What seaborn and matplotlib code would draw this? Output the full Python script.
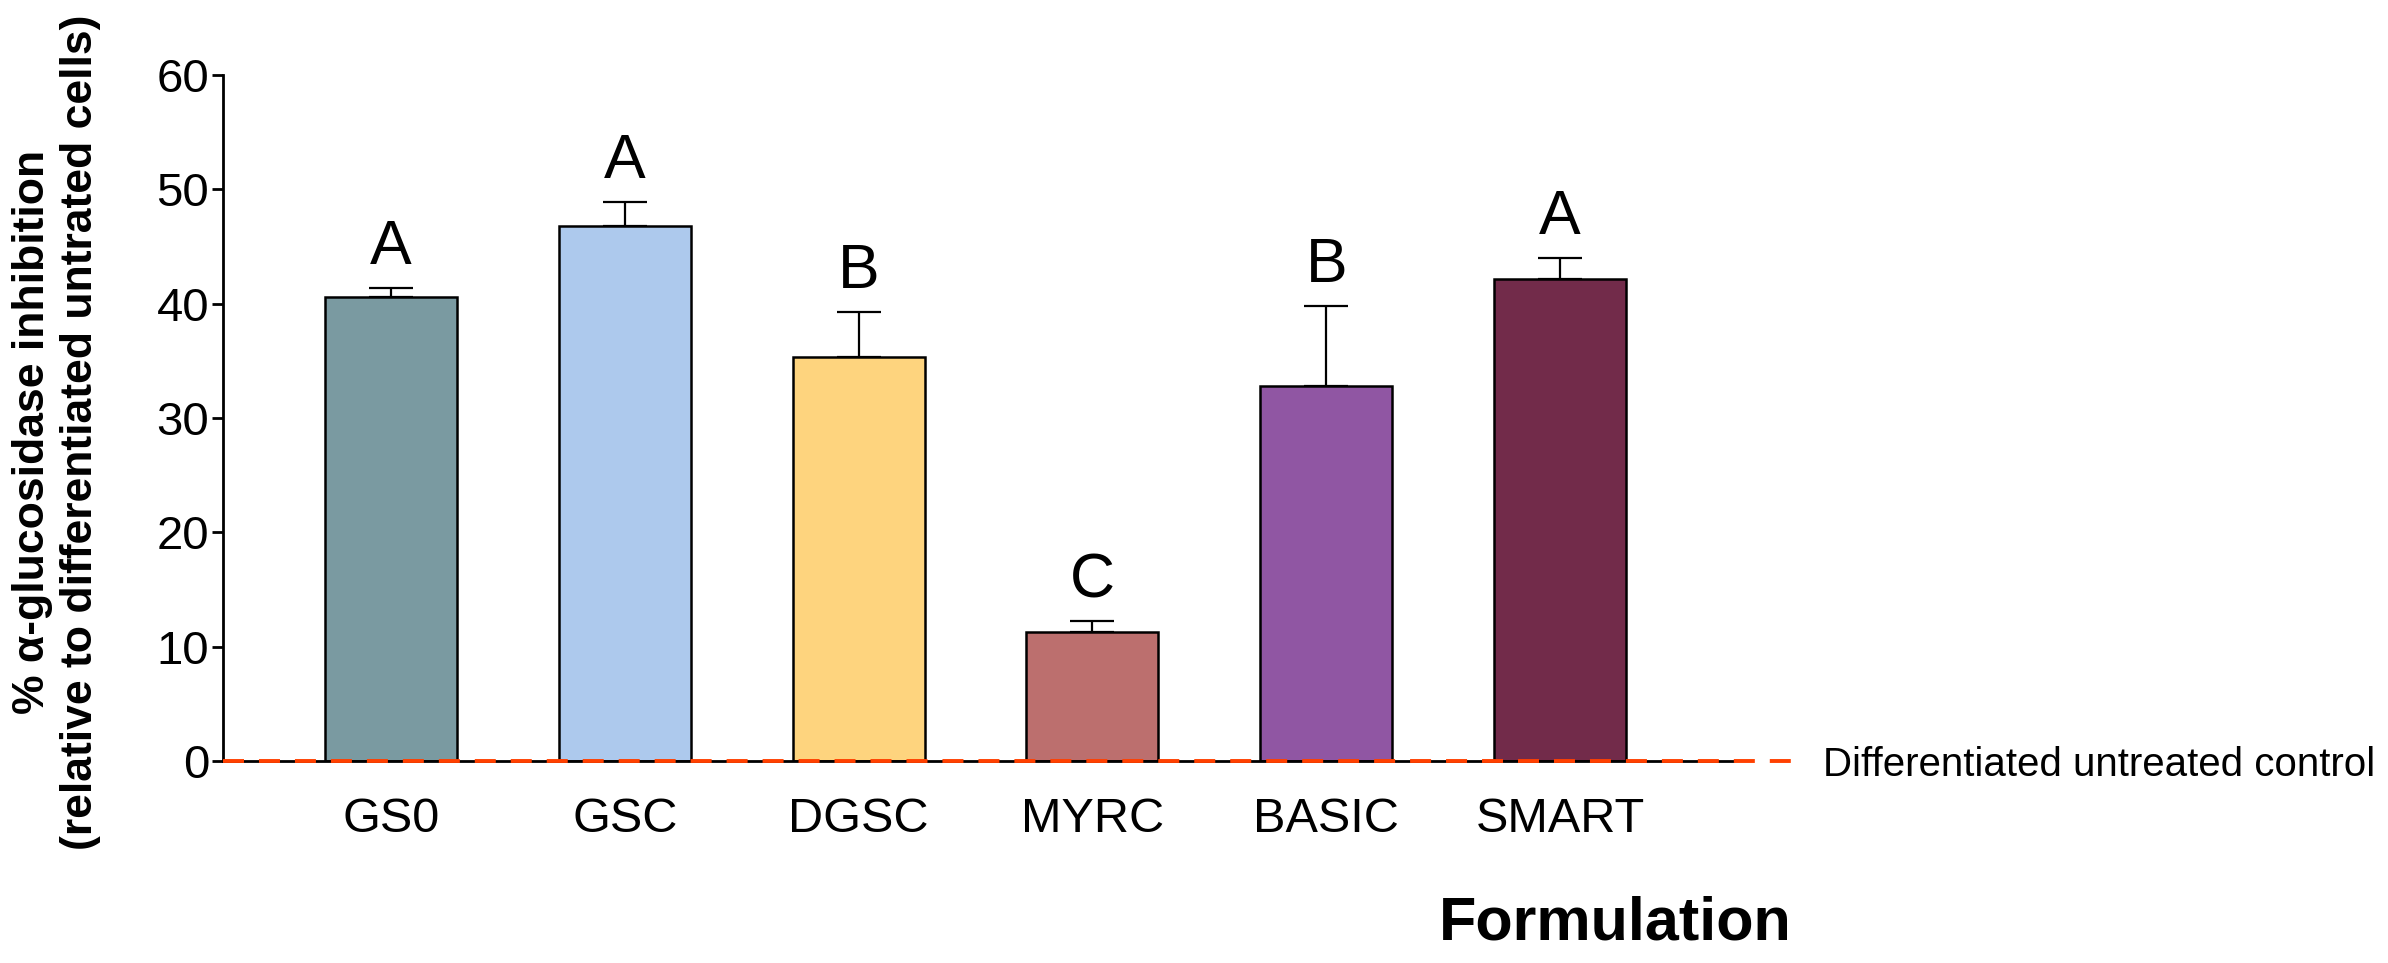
import matplotlib
matplotlib.use("Agg")
import matplotlib.pyplot as plt
import seaborn as sns
import pandas as pd

# data
formulations = ["GS0", "GSC", "DGSC", "MYRC", "BASIC", "SMART"]
inhibition = [40.6, 46.8, 35.3, 11.3, 32.8, 42.2]
sem = [0.8, 2.1, 4.0, 0.9, 7.0, 1.8]
groups = ["A", "A", "B", "C", "B", "A"]
bar_colors = ["#7A9AA1", "#ADC9ED", "#FED47E", "#BC6F6E", "#9056A3", "#722B4A"]

sns.set_style("ticks")
plt.rcParams["font.family"] = ["Liberation Sans", "DejaVu Sans"]
for key in ["text.color", "axes.labelcolor", "xtick.color", "ytick.color", "axes.edgecolor"]:
    plt.rcParams[key] = "black"

df = pd.DataFrame({"formulation": formulations, "inhibition": inhibition})

fig = plt.figure(figsize=(23.88, 9.63), dpi=100)
ax = fig.add_axes([0.0934, 0.2098, 0.6323, 0.7123])

sns.barplot(data=df, x="formulation", y="inhibition", hue="formulation",
            palette=bar_colors, legend=False, width=0.565,
            edgecolor="black", linewidth=1.8, saturation=1, ax=ax, zorder=2)

xs = [p.get_x() + p.get_width() / 2 for p in ax.patches]
ax.errorbar(xs, inhibition, yerr=[[0] * len(sem), sem], fmt="none",
            ecolor="black", elinewidth=1.6, capsize=16, capthick=1.6, zorder=1)

for x, v, e, g in zip(xs, inhibition, sem, groups):
    ax.annotate(g, (x, v + e), xytext=(0, 17), textcoords="offset points",
                ha="center", va="baseline", fontsize=45, color="black")

ax.set_xlim(-0.719, 5.74)
ax.set_ylim(0, 60)
ax.set_yticks(range(0, 61, 10))
sns.despine(ax=ax)
for side in ["left", "bottom"]:
    ax.spines[side].set_linewidth(2.0)
    ax.spines[side].set_color("black")
ax.tick_params(axis="y", labelsize=34, width=2.0, length=8, pad=2, colors="black")
ax.tick_params(axis="x", labelsize=35, length=0, pad=26, colors="black")

# control baseline
ax.plot([-0.719, 6.03], [0, 0], color="#FF4000", lw=2.8, dashes=(5.4, 3.85),
        clip_on=False, zorder=5)
ax.text(6.125, -1.3, "Differentiated untreated control", fontsize=29,
        ha="left", va="baseline", clip_on=False, color="black")

ax.set_xlabel("")
ax.set_ylabel("")
fig.text(0.0237, 0.5514,
         "% \u03b1-glucosidase inhibition\n(relative to differentiated untrated cells)",
         fontsize=32, fontweight="bold", linespacing=1.2, rotation=90,
         ha="center", va="center", multialignment="center", color="black")

fig.text(0.6763, 0.0239, "Formulation", fontsize=44, fontweight="bold",
         ha="center", va="baseline", color="black")

fig.savefig("out.png", dpi=100)
